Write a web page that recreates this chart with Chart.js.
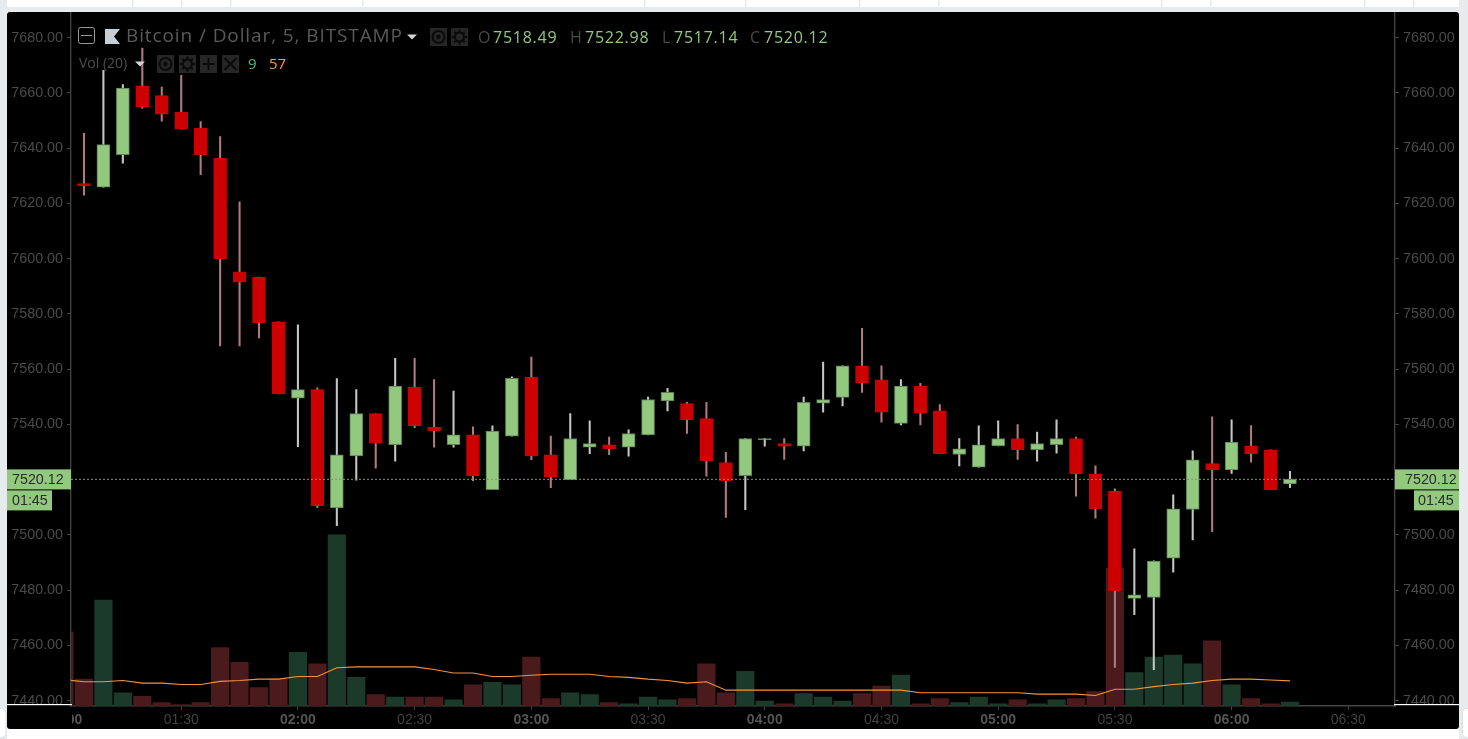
<!DOCTYPE html>
<html><head><meta charset="utf-8">
<style>html,body{margin:0;padding:0;background:#fff;overflow:hidden}canvas{display:block}</style>
<script src="https://cdn.jsdelivr.net/npm/chart.js@4"></script>
</head><body><canvas id="c" width="1468" height="739" style="width:1468px;height:739px"></canvas>
<script>
const times=["01:00","01:05","01:10","01:15","01:20","01:25","01:30","01:35","01:40","01:45","01:50","01:55","02:00","02:05","02:10","02:15","02:20","02:25","02:30","02:35","02:40","02:45","02:50","02:55","03:00","03:05","03:10","03:15","03:20","03:25","03:30","03:35","03:40","03:45","03:50","03:55","04:00","04:05","04:10","04:15","04:20","04:25","04:30","04:35","04:40","04:45","04:50","04:55","05:00","05:05","05:10","05:15","05:20","05:25","05:30","05:35","05:40","05:45","05:50","05:55","06:00","06:05","06:10","06:15"];
const opens=[null,7627.2,7625.9,7637.6,7662.6,7659.0,7653.0,7647.2,7636.4,7595.2,7593.3,7577.1,7549.5,7552.6,7509.8,7528.6,7543.9,7532.7,7553.5,7539.0,7532.7,7536.2,7516.4,7535.7,7557.1,7529.0,7520.0,7531.8,7532.6,7531.8,7536.2,7548.5,7547.5,7542.1,7526.2,7521.4,7534.4,7533.1,7532.1,7547.7,7549.8,7561.2,7556.1,7540.4,7553.9,7544.9,7529.1,7524.5,7532.2,7534.9,7530.9,7532.7,7534.9,7522.1,7515.8,7477.0,7477.4,7491.6,7509.2,7525.8,7523.5,7532.2,7530.8,7518.49];
const highs=[null,7645.4,7668.2,7663.0,7676.2,7662.1,7666.4,7649.6,7644.2,7620.6,7593.3,7577.1,7576.0,7553.2,7556.6,7552.6,7543.9,7563.9,7563.9,7556.2,7552.1,7539.1,7539.5,7557.2,7564.4,7535.8,7543.9,7541.3,7535.4,7538.0,7549.9,7553.1,7548.0,7548.0,7529.9,7534.9,7534.9,7534.9,7549.9,7562.6,7561.2,7574.8,7561.2,7556.2,7554.9,7547.2,7534.9,7539.5,7541.3,7539.9,7537.2,7541.7,7535.4,7525.0,7516.7,7495.0,7490.6,7514.5,7530.4,7542.7,7541.7,7539.6,7530.8,7522.98];
const lows=[null,7623.0,7625.9,7634.6,7654.5,7649.8,7646.9,7630.4,7568.4,7568.4,7571.3,7551.0,7531.9,7509.9,7503.3,7519.8,7524.2,7526.7,7538.8,7531.8,7531.8,7519.6,7516.4,7535.7,7527.2,7517.1,7520.0,7529.4,7529.0,7528.5,7536.2,7544.9,7536.7,7521.3,7506.3,7509.1,7532.1,7527.3,7530.4,7544.4,7546.7,7551.6,7540.8,7539.8,7539.8,7529.4,7525.0,7524.5,7532.2,7527.3,7526.7,7529.6,7514.0,7506.1,7452.0,7471.1,7451.2,7486.5,7498.2,7501.2,7522.3,7526.3,7516.4,7517.14];
const closes=[null,7626.4,7641.3,7661.7,7655.0,7652.3,7646.9,7637.6,7599.9,7591.5,7576.7,7551.0,7552.6,7510.5,7529.0,7543.9,7533.2,7553.9,7539.5,7537.6,7536.2,7521.4,7537.6,7556.7,7528.6,7520.9,7534.9,7533.1,7531.2,7536.7,7549.0,7551.6,7541.7,7526.8,7519.6,7534.9,7534.9,7532.1,7548.0,7549.0,7561.2,7554.9,7544.4,7553.9,7544.1,7529.4,7531.2,7532.6,7534.9,7530.9,7533.1,7534.9,7522.2,7509.5,7479.7,7478.3,7490.5,7509.4,7527.2,7523.5,7533.6,7529.4,7516.4,7520.12];
const volumes=[168,61,241,30,22,8,3,8,133,99,42,61,122,96,389,65,26,20,20,20,14,48,54,48,111,17,30,26,8,5,20,14,17,96,30,79,11,5,28,20,11,28,45,70,5,17,8,20,5,14,5,14,17,33,313,76,111,116,96,148,48,17,5,9];
const volumeUp=[0,0,1,1,0,0,0,0,0,0,0,0,1,0,1,1,0,1,0,0,1,0,1,1,0,0,1,1,0,1,1,1,0,0,0,1,1,0,1,1,1,0,0,1,0,0,1,1,1,0,1,1,0,0,0,1,1,1,1,0,1,0,0,1];
const volumeMA=[60,55,55,58,52,52,49,49,56,58,61,61,67,67,87,89,89,89,89,83,75,75,67,67,70,72,72,72,67,65,61,58,52,55,36,36,36,36,36,36,36,36,36,36,30,30,30,30,30,30,27,27,27,24,38,38,44,49,52,58,61,61,59,57];
const lastClose=7520.12;
const countdown="01:45";
const headerValues={O:"7518.49",H:"7522.98",L:"7517.14",C:"7520.12"};
const volLegend=["Vol (20)","9","57"];
const title="Bitcoin / Dollar, 5, BITSTAMP";

const toMin=t=>{const[a,b]=t.split(":").map(Number);return a*60+b};
const mins=times.map(toMin);
const X_MIN=61.67,X_MAX=402.0,Y_MIN=7438.07,Y_MAX=7689.07,V_MAX=1576;
const RED="#cc0000",GREEN="#93c87f";
const idx=times.map((_,i)=>i).filter(i=>opens[i]!==null);

const decor={id:'decor',
 beforeDraw(ch){const g=ch.ctx;g.save();
  g.fillStyle="#ffffff";g.fillRect(0,0,1468,739);
  g.fillStyle="#e8ebee";g.fillRect(0,0,7,739);g.fillRect(1459,0,9,739);g.fillRect(0,7,1468,5);
  [132,181,230,362,644,745,859,938,1161,1210,1364,1413].forEach(x=>g.fillRect(x,0,1.5,7));
  g.fillStyle="#000";g.beginPath();g.roundRect(7,12,1452,717,3);g.fill();
  g.fillStyle="#fff";g.strokeStyle="#dde1e5";g.lineWidth=1;
  g.beginPath();g.roundRect(-6,708.5,12,29,4);g.fill();g.stroke();
  g.beginPath();g.roundRect(1462.5,708.5,12,29,4);g.fill();g.stroke();
  g.restore();},
 afterDraw(ch){const g=ch.ctx,xs=ch.scales.x;g.save();
  // clipped first hour label
  g.save();g.beginPath();g.rect(72,708,60,25);g.clip();
  g.font="bold 14px 'Liberation Sans'";g.fillStyle="#555";g.textAlign="center";g.textBaseline="middle";
  g.fillText(times[0],xs.getPixelForValue(mins[0]),720);g.restore();
  // white separators
  g.fillStyle="#fff";g.fillRect(7,704,65,1.2);g.fillRect(1394,704,65,1.2);
  // price labels
  const py=479.4;
  g.fillStyle=GREEN;
  g.fillRect(7,py-10,64,20);g.fillRect(7,py+11,45,20);
  g.fillRect(1395,py-10,64,20);g.fillRect(1414,py+11,45,20);
  g.fillStyle="#2b2b2b";g.font="14.3px 'Liberation Sans'";g.textBaseline="middle";g.textAlign="left";
  g.fillText(lastClose.toFixed(2),12,py+1);g.fillText(countdown,12,py+22);
  g.fillText(lastClose.toFixed(2),1405,py+1);g.fillText(countdown,1418,py+22);
  // header
  g.textBaseline="middle";
  g.strokeStyle="#9a9a9a";g.lineWidth=1;g.beginPath();g.roundRect(78.5,27.5,16,16,2);g.stroke();
  g.beginPath();g.moveTo(81,35.5);g.lineTo(92,35.5);g.stroke();
  g.fillStyle="#c9ced3";g.beginPath();g.moveTo(105,29);g.lineTo(120,29);g.lineTo(114,36.5);g.lineTo(120,44);g.lineTo(105,44);g.closePath();g.fill();
  g.font="19px 'Open Sans'";g.letterSpacing="0.9px";g.fillStyle="#5a5a5a";g.fillText(title,126,36.5);g.letterSpacing="0px";
  const caret=(x,y)=>{g.fillStyle="#d5d5d5";g.beginPath();g.moveTo(x,y);g.lineTo(x+10,y);g.lineTo(x+5,y+5);g.closePath();g.fill();};
  caret(407,34.5);caret(135,61.5);
  const btn=(x,y,kind)=>{g.fillStyle="#262626";g.fillRect(x,y,17,18);g.strokeStyle="#0a0a0a";g.fillStyle="#0a0a0a";g.lineWidth=2;
    const cx=x+8.5,cy=y+9;
    if(kind==="eye"){g.beginPath();g.arc(cx,cy,6,0,7);g.stroke();g.beginPath();g.arc(cx,cy,2.2,0,7);g.fill();}
    if(kind==="gear"){g.beginPath();g.arc(cx,cy,4.5,0,7);g.stroke();for(let a=0;a<8;a++){g.save();g.translate(cx,cy);g.rotate(a*Math.PI/4);g.fillRect(-1,-7.5,2,3);g.restore();}}
    if(kind==="plus"){g.beginPath();g.moveTo(cx-6,cy);g.lineTo(cx+6,cy);g.moveTo(cx,cy-6);g.lineTo(cx,cy+6);g.stroke();}
    if(kind==="x"){g.beginPath();g.moveTo(cx-6,cy-6);g.lineTo(cx+6,cy+6);g.moveTo(cx+6,cy-6);g.lineTo(cx-6,cy+6);g.stroke();}
  };
  btn(430,28,"eye");btn(451,28,"gear");
  btn(157,55,"eye");btn(179,55,"gear");btn(200,55,"plus");btn(222,55,"x");
  g.font="16px 'Open Sans'";g.letterSpacing="0.75px";
  const pair=(k,xk,xv)=>{g.fillStyle="#4a4a4a";g.fillText(k,xk,38);g.fillStyle=GREEN;g.fillText(headerValues[k],xv,38);};
  pair("O",478,493);pair("H",570,585);pair("L",662,674);pair("C",750,764);
  g.letterSpacing="0px";
  g.font="14px 'Open Sans'";g.fillStyle="#4f4f4f";g.fillText(volLegend[0],79,64);
  g.font="15px 'Open Sans'";
  g.fillStyle="#53b987";g.fillText(volLegend[1],248,65);
  g.fillStyle="#f89b4b";g.fillText(volLegend[2],269,65);
  g.restore();}
};

const axisCol="#454545",txtCol="#4a4a4a";
const yAxis=(pos,w)=>({position:pos,min:Y_MIN,max:Y_MAX,
  afterFit(s){s.width=w},
  border:{color:axisCol,width:1.3},
  grid:{drawOnChartArea:false,drawTicks:true,tickLength:4,tickColor:axisCol},
  ticks:{stepSize:20,includeBounds:false,padding:4,color:txtCol,font:{family:"'Liberation Sans'",size:14.3},callback:v=>v.toFixed(2)}});

new Chart(document.getElementById('c'),{
 type:'bar',
 data:{datasets:[
  {type:'bar',order:5,yAxisID:'vol',label:'Volume',barThickness:17.5,grouped:false,
   data:times.map((_,i)=>({x:mins[i],y:volumes[i]})),
   backgroundColor:volumeUp.map(u=>u?"#1c3a2a":"#4a1a1d")},
  {type:'line',order:4,yAxisID:'vol',label:'Volume MA',borderColor:"#f5923c",borderWidth:1.1,pointRadius:0,tension:0,
   data:times.map((_,i)=>({x:mins[i],y:volumeMA[i]}))},
  {type:'bar',order:3,yAxisID:'y',label:'Wick',barThickness:1.4,grouped:false,
   data:idx.map(i=>({x:mins[i],y:[lows[i],highs[i]]})),
   backgroundColor:idx.map(i=>closes[i]>=opens[i]?"#c4c8c2":"#b07a82")},
  {type:'bar',order:2,yAxisID:'y',label:'Body',barThickness:13,grouped:false,
   data:idx.map(i=>({x:mins[i],y:[Math.min(opens[i],closes[i]),Math.max(opens[i],closes[i])]})),
   backgroundColor:idx.map(i=>closes[i]>=opens[i]?GREEN:RED),
   borderColor:idx.map(i=>closes[i]>=opens[i]?"#5d7f50":RED),borderWidth:1,borderSkipped:false},
  {type:'line',order:1,yAxisID:'y',label:'Last',borderColor:"#7d9a70",borderWidth:1,borderDash:[2,2],pointRadius:0,
   data:[{x:X_MIN,y:lastClose},{x:X_MAX,y:lastClose}]}
 ]},
 options:{responsive:false,animation:false,devicePixelRatio:1,
  layout:{padding:{top:12,left:0,right:0,bottom:0}},
  plugins:{legend:{display:false},tooltip:{enabled:false}},
  scales:{
   x:{type:'linear',position:'bottom',offset:false,min:X_MIN,max:X_MAX,
    afterFit(s){s.height=33},
    border:{color:axisCol,width:1.5},
    grid:{drawOnChartArea:false,offset:false,tickLength:4,tickColor:axisCol},
    ticks:{stepSize:30,includeBounds:false,autoSkip:false,maxRotation:0,padding:2,color:c=>c.tick&&c.tick.value%60===0?"#555":"#424242",
     font:c=>({family:"'Liberation Sans'",size:14,weight:c.tick&&c.tick.value%60===0?'bold':'normal'}),
     callback:v=>{const h=Math.floor(v/60),m=v%60;return String(h).padStart(2,'0')+":"+String(m).padStart(2,'0')}}},
   y:yAxis('left',71),
   y2:yAxis('right',73),
   vol:{display:false,min:0,max:V_MAX}
  }},
 plugins:[decor]
});
</script></body></html>
